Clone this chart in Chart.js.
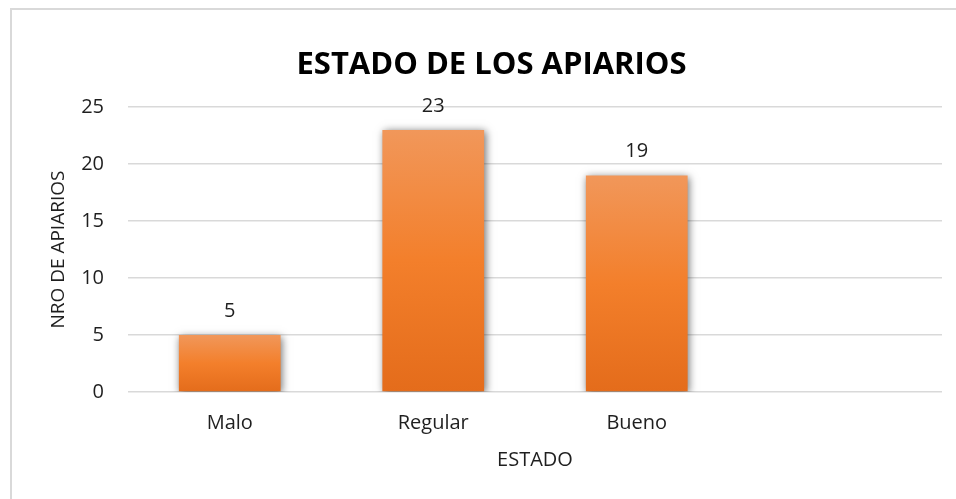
<!DOCTYPE html>
<html>
<head>
<meta charset="utf-8">
<script src="https://cdn.jsdelivr.net/npm/chart.js@4.4.1/dist/chart.umd.min.js"></script>
<style>
    html, body { margin: 0; padding: 0; background: #ffffff; }
    #wrap { position: relative; width: 956px; height: 499px; overflow: hidden; }
    #frame {
        position: absolute; left: 10px; top: 8px; width: 1000px; height: 600px;
        border-left: 2px solid #d9d9d9; border-top: 2px solid #d9d9d9;
    }
    #box { position: absolute; left: 0; top: 0; width: 983px; height: 499px; }
</style>
</head>
<body>
<div id="wrap">
    <div id="frame"></div>
    <div id="box"><canvas id="chart"></canvas></div>
</div>
<script>
// Data
const categories = ["Malo", "Regular", "Bueno", ""];
const apiarios = [5, 23, 19, null];
const yTicks = [0, 5, 10, 15, 20, 25];

const FONT = "'Open Sans', 'DejaVu Sans', sans-serif";
const TEXT = "#1f1f1f";

// Excel-like vertical gradient, one per bar
function barGradient(context) {
    const chart = context.chart;
    const v = context.raw;
    if (!chart.chartArea || v == null) return "#F07F2C";
    const y = chart.scales.y;
    const top = y.getPixelForValue(v);
    const bottom = y.getPixelForValue(0);
    const g = chart.ctx.createLinearGradient(0, top, 0, bottom);
    g.addColorStop(0, "#F1975A");
    g.addColorStop(0.5, "#F37F2B");
    g.addColorStop(1, "#E46C1B");
    return g;
}

// Soft grey shadow behind the bars
const barShadow = {
    id: "barShadow",
    beforeDatasetsDraw(chart) {
        const ctx = chart.ctx;
        ctx.save();
        ctx.shadowColor = "rgba(0,0,0,0.55)";
        ctx.shadowBlur = 8;
        ctx.shadowOffsetX = 1.5;
        ctx.shadowOffsetY = 1.5;
    },
    afterDatasetsDraw(chart) {
        chart.ctx.restore();
    }
};

// Value labels above each bar
const valueLabels = {
    id: "valueLabels",
    afterDatasetsDraw(chart) {
        const ctx = chart.ctx;
        const meta = chart.getDatasetMeta(0);
        ctx.save();
        ctx.font = "20px " + FONT;
        ctx.fillStyle = TEXT;
        ctx.textAlign = "center";
        ctx.textBaseline = "middle";
        meta.data.forEach((bar, i) => {
            const v = apiarios[i];
            if (v == null) return;
            ctx.fillText(String(v), bar.x, bar.y - 24);
        });
        ctx.restore();
    }
};

new Chart(document.getElementById("chart"), {
    type: "bar",
    data: {
        labels: categories,
        datasets: [{
            label: "NRO DE APIARIOS",
            data: apiarios,
            backgroundColor: barGradient,
            borderWidth: 0,
            barPercentage: 0.5,
            categoryPercentage: 1
        }]
    },
    options: {
        responsive: true,
        maintainAspectRatio: false,
        animation: false,
        layout: { padding: { left: 0, right: 0, top: 0, bottom: 0 } },
        plugins: {
            legend: { display: false },
            tooltip: { enabled: false },
            title: {
                display: true,
                text: "ESTADO DE LOS APIARIOS",
                color: "#000000",
                font: { family: FONT, size: 31, weight: "bold", lineHeight: 1.2 },
                padding: { top: 47, bottom: 23 }
            }
        },
        scales: {
            x: {
                grid: { display: false, drawTicks: false },
                border: { display: false },
                ticks: { color: TEXT, font: { family: FONT, size: 20 }, padding: 19 },
                title: {
                    display: true, text: "ESTADO", color: TEXT,
                    font: { family: FONT, size: 20, lineHeight: 1.2 },
                    padding: { top: 0, bottom: 27 }
                },
                afterFit(scale) { scale.height = 107; }
            },
            y: {
                min: 0,
                max: 25,
                afterBuildTicks(scale) { scale.ticks = yTicks.map(v => ({ value: v })); },
                grid: { color: "#d9d9d9", lineWidth: 1.5, drawTicks: false },
                border: { display: false },
                ticks: { color: TEXT, font: { family: FONT, size: 20 }, padding: 24 },
                title: {
                    display: true, text: "NRO DE APIARIOS", color: TEXT,
                    font: { family: FONT, size: 19, lineHeight: 1.2 },
                    padding: { top: 47, bottom: 0 }
                },
                afterFit(scale) { scale.width = 128; }
            },
            // invisible right axis so the title centres like the original frame
            y2: {
                position: "right",
                grid: { display: false, drawTicks: false },
                border: { display: false },
                ticks: { display: false },
                afterFit(scale) { scale.width = 41; }
            }
        }
    },
    plugins: [barShadow, valueLabels]
});
</script>
</body>
</html>
